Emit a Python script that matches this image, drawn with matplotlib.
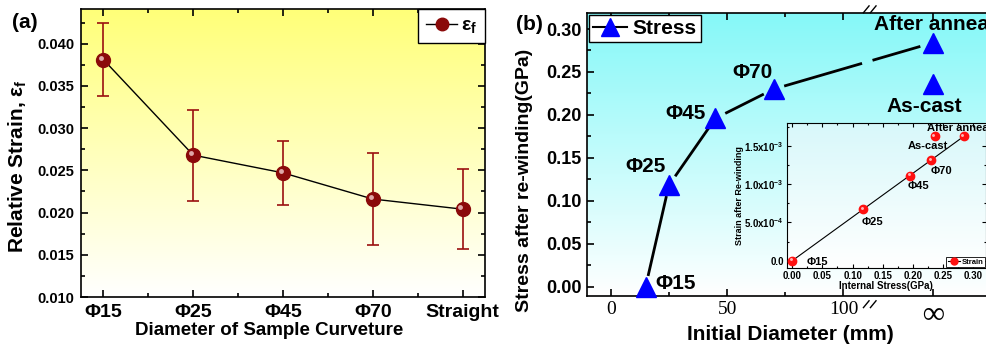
import numpy as np
import matplotlib
matplotlib.use("Agg")
import matplotlib.pyplot as plt
from matplotlib.lines import Line2D
from matplotlib.ticker import MultipleLocator, FixedLocator
from matplotlib.colors import LinearSegmentedColormap
from matplotlib.transforms import offset_copy

plt.rcParams['font.family'] = ['Liberation Sans', 'DejaVu Sans']
plt.rcParams['font.weight'] = 'bold'
plt.rcParams['axes.labelweight'] = 'bold'
plt.rcParams['mathtext.fontset'] = 'custom'
plt.rcParams['mathtext.rm'] = 'Liberation Sans:bold'
plt.rcParams['mathtext.it'] = 'Liberation Sans:bold:italic'

# --- panel (a) data ---
curv_labels = ['Φ15', 'Φ25', 'Φ45', 'Φ70', 'Straight']
strain = [0.0381, 0.0268, 0.0247, 0.0216, 0.0204]
strain_err = [0.0043, 0.0054, 0.0038, 0.0054, 0.0047]

# --- panel (b) data ---
diam = [15, 25, 45, 70]
diam_labels = ['Φ15', 'Φ25', 'Φ45', 'Φ70']
stress = [0.0, 0.118, 0.196, 0.230]
stress_annealed = 0.284
stress_ascast = 0.236
INF_POS = 138.4   # where "infinity" sits on the x axis
BREAK_POS = 112

# --- inset data ---
int_stress = [0.0, 0.118, 0.196, 0.230, 0.236, 0.284]
strain_rw = [0.0, 0.67e-3, 1.11e-3, 1.31e-3, 1.62e-3, 1.62e-3]
inset_labels = ['Φ15', 'Φ25', 'Φ45', 'Φ70', 'As-cast', 'After anneal']


def gradient_bg(ax, top, bottom='#FFFFFF'):
    cmap = LinearSegmentedColormap.from_list('g', [bottom, top])
    grad = np.linspace(0, 1, 256).reshape(-1, 1)
    ax.imshow(grad, aspect='auto', cmap=cmap, extent=[0, 1, 0, 1],
              origin='lower', transform=ax.transAxes, zorder=0)


def style_ticks(ax, size=5, lw=1.2):
    ax.tick_params(which='both', direction='in', top=True, right=True, width=lw)
    ax.tick_params(which='major', length=size)
    ax.tick_params(which='minor', length=size * 0.6)
    for s in ax.spines.values():
        s.set_linewidth(lw)


def sphere(ax, x, y, color, ms, hl, fig, zorder=5):
    ax.plot(x, y, 'o', color=color, mec=color, ms=ms, zorder=zorder)
    tr = offset_copy(ax.transData, fig=fig, x=-ms * 0.15, y=ms * 0.15, units='points')
    ax.plot(x, y, 'o', color=hl, mec='none', ms=ms * 0.35, alpha=0.8,
            transform=tr, zorder=zorder + 1)


def gapped_line(ax, xs, ys, gap, **kw):
    # draw segments between points, leaving a gap (in pixels) at each end
    pts = ax.transData.transform(np.column_stack([xs, ys]))
    inv = ax.transData.inverted()
    for p, q in zip(pts[:-1], pts[1:]):
        d = q - p
        u = d / np.hypot(*d)
        seg = inv.transform([p + u * gap[0], q - u * gap[1]])
        ax.plot(seg[:, 0], seg[:, 1], **kw)


fig = plt.figure(figsize=(9.87, 3.45), dpi=100)

# ================= panel (a) =================
axa = fig.add_axes([0.0821, 0.1391, 0.4093, 0.8348])
gradient_bg(axa, '#FFFF78')
xa = np.arange(len(curv_labels))
axa.plot(xa, strain, '-', color='black', lw=1, zorder=3)
axa.errorbar(xa, strain, yerr=strain_err, fmt='none', ecolor='#9B1010',
             elinewidth=1.2, capsize=4, capthick=1.2, zorder=4)
sphere(axa, xa, strain, '#8B0A0A', 10, '#F5D0D0', fig)
axa.set_xlim(-0.25, 4.25)
axa.set_ylim(0.010, 0.0441)
axa.set_xticks(xa)
axa.set_xticklabels(curv_labels, fontsize=14)
axa.xaxis.set_minor_locator(FixedLocator(xa[:-1] + 0.5))
axa.yaxis.set_major_locator(MultipleLocator(0.005))
axa.yaxis.set_minor_locator(MultipleLocator(0.0025))
axa.yaxis.set_major_formatter(plt.FormatStrFormatter('%.3f'))
axa.tick_params(axis='y', labelsize=10.5, pad=5)
axa.tick_params(axis='x', pad=5)
style_ticks(axa)
axa.set_xlabel('Diameter of Sample Curveture', fontsize=13.5)
axa.xaxis.set_label_coords(0.465, -0.088)
axa.set_ylabel('Relative Strain, ε$_\\mathregular{f}$', fontsize=15)
axa.yaxis.set_label_coords(-0.128, 0.453)
ha = Line2D([], [], color='black', lw=1, marker='o', mfc='#8B0A0A', mec='#8B0A0A', ms=9)
leg = axa.legend([ha], ['ε$_\\mathregular{f}$'], loc='upper right', fontsize=14,
                 frameon=True, fancybox=False, edgecolor='black', framealpha=1,
                 borderaxespad=0, handlelength=1.6, handletextpad=0.2,
                 borderpad=0.4)
leg.get_frame().set_linewidth(1)
fig.text(0.012, 0.936, '(a)', fontsize=15, va='center')

# ================= panel (b) =================
axb = fig.add_axes([0.5947, 0.1429, 0.4249, 0.8203])
gradient_bg(axb, '#85F8F8')
axb.set_xlim(-10.2, 170)
axb.set_ylim(-0.0105, 0.319)
axb.spines['right'].set_visible(False)

main_x = diam + [INF_POS]
main_y = stress + [stress_annealed]
# line with gaps around the markers and at the axis break
seg_kw = dict(color='black', lw=2, zorder=3, solid_capstyle='butt')
gapped_line(axb, main_x[:-1], main_y[:-1], (11, 11), **seg_kw)
slope = (stress_annealed - stress[-1]) / (INF_POS - diam[-1])
x1, x2 = BREAK_POS - 4, BREAK_POS + 0.5
gapped_line(axb, [diam[-1], x1], [stress[-1], stress[-1] + slope * (x1 - diam[-1])],
            (11, 0), **seg_kw)
gapped_line(axb, [x2, INF_POS], [stress[-1] + slope * (x2 - diam[-1]), stress_annealed],
            (0, 13), **seg_kw)
axb.plot(main_x, main_y, '^', color='#0000FF', ms=15, zorder=5, clip_on=False)
axb.plot([INF_POS], [stress_ascast], '^', color='#0000FF', ms=15, zorder=5)

lab_pos = [(19.0, 0.004), (6.1, 0.140), (23.3, 0.202), (52.3, 0.249)]
for t, (px, py) in zip(diam_labels, lab_pos):
    axb.text(px, py, t, fontsize=15, ha='left', va='center', zorder=6)
axb.text(113.2, 0.305, 'After annealed', fontsize=15, ha='left', va='center', zorder=6)
axb.text(118.3, 0.210, 'As-cast', fontsize=15, ha='left', va='center', zorder=6)

axb.set_xticks([0, 50, 100, INF_POS])
axb.set_xticklabels(['0', '50', '100', '∞'], fontweight='normal')
for lab in axb.get_xticklabels():
    lab.set_family('Liberation Serif')
    lab.set_fontsize(14)
axb.get_xticklabels()[-1].set_fontsize(22)
axb.get_xticklabels()[-1].set_fontweight('bold')
axb.xaxis.set_minor_locator(FixedLocator([25, 75]))
axb.yaxis.set_major_locator(MultipleLocator(0.05))
axb.yaxis.set_minor_locator(MultipleLocator(0.025))
axb.yaxis.set_major_formatter(plt.FormatStrFormatter('%.2f'))
axb.tick_params(axis='y', labelsize=13, pad=4)
axb.tick_params(axis='x', pad=4)
style_ticks(axb)
axb.tick_params(right=False, which='both')
axb.set_xlabel('Initial Diameter (mm)', fontsize=15)
axb.xaxis.set_label_coords(0.484, -0.102)
axb.set_ylabel('Stress after re-winding(GPa)', fontsize=14)
axb.yaxis.set_label_coords(-0.129, 0.409)

# axis break marks
for yb, dy in [(1.0, 0.012), (0.0, -0.03)]:
    for dx in (-2.2, 0.8):
        axb.plot([BREAK_POS + dx - 1.2, BREAK_POS + dx + 1.2], [yb + dy - 0.012, yb + dy + 0.012],
                 transform=axb.get_xaxis_transform(), color='black', lw=1, clip_on=False)

hb = Line2D([], [], color='black', lw=1.5, marker='^', mfc='#0000FF', mec='#0000FF', ms=13)
legb = axb.legend([hb], ['Stress'], loc='upper left', fontsize=15, frameon=True,
                  fancybox=False, edgecolor='black', framealpha=1,
                  borderaxespad=0.1, handlelength=1.6, handletextpad=0.3, borderpad=0.2)
legb.get_frame().set_linewidth(1)
fig.text(0.523, 0.928, '(b)', fontsize=15, va='center')

# ================= inset =================
axi = fig.add_axes([0.797, 0.2232, 0.2019, 0.4194])
gradient_bg(axi, '#D8F8FA')
axi.set_xlim(-0.0093, 0.321)
axi.set_ylim(-0.095e-3, 1.792e-3)
fit_x = [int_stress[0], int_stress[-1]]
fit_y = [strain_rw[0], strain_rw[-1]]
axi.plot(fit_x, fit_y, '-', color='black', lw=0.8, zorder=3)
sphere(axi, int_stress, strain_rw, '#FF1010', 6, '#FFE0E0', fig)
ins_pos = [(0.024, -0.02e-3), (0.115, 0.505e-3), (0.192, 0.974e-3), (0.229, 1.174e-3),
           (0.192, 1.496e-3), (0.223, 1.73e-3)]
for t, (px, py) in zip(inset_labels, ins_pos):
    axi.text(px, py, t, fontsize=8, ha='left', va='center', zorder=6)
axi.xaxis.set_major_locator(MultipleLocator(0.05))
axi.xaxis.set_major_formatter(plt.FormatStrFormatter('%.2f'))
axi.set_yticks([0, 0.5e-3, 1.0e-3, 1.5e-3])
axi.set_yticklabels(['0.0', '5.0x10$^{\\mathregular{-4}}$', '1.0x10$^{\\mathregular{-3}}$',
                     '1.5x10$^{\\mathregular{-3}}$'])
axi.yaxis.set_minor_locator(MultipleLocator(0.25e-3))
axi.xaxis.set_minor_locator(MultipleLocator(0.025))
axi.tick_params(labelsize=7, pad=2)
style_ticks(axi, size=3, lw=0.8)
axi.set_xlabel('Internal Stress(GPa)', fontsize=7, labelpad=0)
axi.set_ylabel('Strain after Re-winding', fontsize=6.5, labelpad=0)
hi = Line2D([], [], color='black', lw=0.8, marker='o', mfc='#FF1010', mec='#FF1010', ms=5)
legi = axi.legend([hi], ['Strain'], loc='lower right', fontsize=5.5, frameon=True,
                  fancybox=False, edgecolor='black', framealpha=1,
                  borderaxespad=0.1, handlelength=1.6, handletextpad=0.2, borderpad=0.2)
legi.get_frame().set_linewidth(0.6)

fig.savefig('out.png', dpi=100)
